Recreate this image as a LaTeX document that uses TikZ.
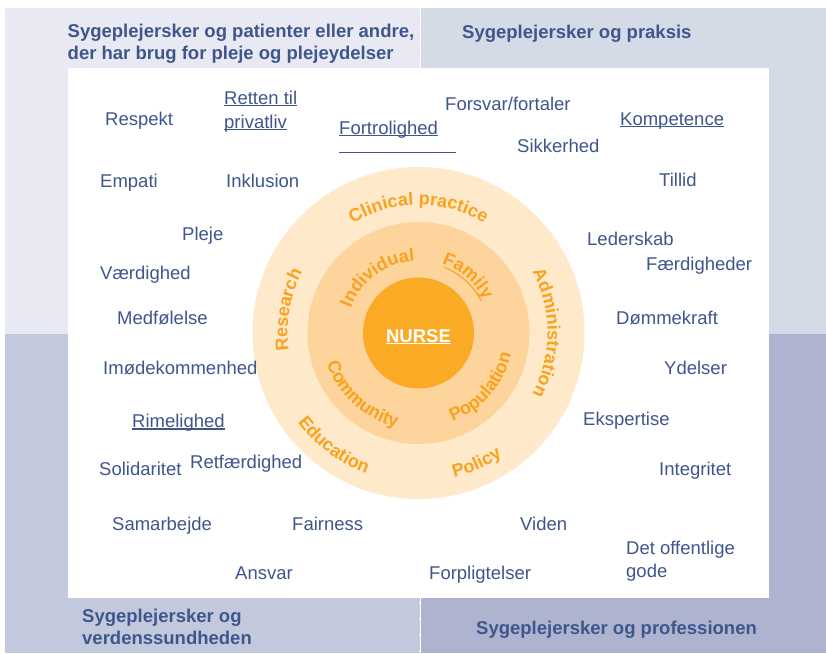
\documentclass[tikz,border=0pt]{standalone}
\usepackage{fontspec}
\setmainfont{Liberation Sans}
\usepackage{tikz}
\usetikzlibrary{decorations.text}

\definecolor{ordblaa}{HTML}{3F568C}
\definecolor{kvadA}{HTML}{E8E9F2}
\definecolor{kvadB}{HTML}{D5DAE7}
\definecolor{kvadC}{HTML}{C3C9DD}
\definecolor{kvadD}{HTML}{AEB3CF}
\definecolor{ringyder}{HTML}{FEE9CA}
\definecolor{ringmidt}{HTML}{FDD49C}
\definecolor{ringinder}{HTML}{FBAA26}
\definecolor{ringtekst}{HTML}{F9A21D}

\newcommand{\ulword}[1]{\setbox0\hbox{#1}\rlap{\rule[-1.8pt]{\wd0}{1.1pt}}\box0}
\newcommand{\ringfont}{\fontsize{18}{20}\selectfont\bfseries\color{ringtekst}}

\tikzset{
  word/.style={font=\fontsize{18.5}{23.5}\selectfont, text=ordblaa,
    anchor=base west, inner sep=0pt, align=left},
  heading/.style={font=\fontsize{18.5}{22.5}\selectfont\bfseries, text=ordblaa,
    anchor=base west, inner sep=0pt, align=left},
  ringlabel/.style={decorate, decoration={text along path, text align=center, text={|\ringfont|#1}}}
}

\begin{document}
\begin{tikzpicture}[x=1pt,y=-1pt]
\useasboundingbox (0,0) rectangle (826,653);

% quadrants
\fill[kvadA] (5,8) rectangle (420,334);
\fill[kvadB] (420,8) rectangle (826,334);
\fill[kvadC] (5,334) rectangle (420,653);
\fill[kvadD] (420,334) rectangle (826,653);
\fill[white] (68,68) rectangle (769,598);

\draw[white, line width=0.8pt] (420,8) -- (420,68);
\draw[white, line width=0.8pt] (420,598) -- (420,653);
\draw[white, line width=2.5pt, line cap=round, dash pattern=on 0pt off 16pt] (420,13) -- (420,68);
\draw[white, line width=2.5pt, line cap=round, dash pattern=on 0pt off 16pt] (420,603) -- (420,653);

\node[heading, anchor=north west] (hjoerneA) at (67.5,23.4) {Sygeplejersker og patienter eller andre,\\der har brug for pleje og plejeydelser};
\node[heading] (hjoerneB) at (462,38) {Sygeplejersker og praksis};
\node[heading, anchor=north west] (hjoerneC) at (82,608.4) {Sygeplejersker og\\verdenssundheden};
\node[heading] (hjoerneD) at (476,634) {Sygeplejersker og professionen};

% rings
\begin{scope}[shift={(418.5,333)}, y=1pt]
\fill[ringyder] (0,0) circle (166);
\fill[ringmidt] (0,0) circle (111);
\fill[ringinder] (0,0) circle (55.5);

\path[ringlabel=Clinical practice] (140:128) arc[start angle=140, end angle=40, radius=128];
\path[ringlabel=Research] (215:131) arc[start angle=215, end angle=125, radius=131];
\path[ringlabel=Administration] (45:129) arc[start angle=45, end angle=-45, radius=129];
\path[ringlabel=Education] (193:150) arc[start angle=193, end angle=273, radius=150];
\path[ringlabel=Policy] (-106:149) arc[start angle=-106, end angle=-26, radius=149];

\path[ringlabel=Individual] (166.5:72) arc[start angle=166.5, end angle=86.5, radius=72];
\path[ringlabel=Family] (89:73) arc[start angle=89, end angle=9, radius=73];
\path[ringlabel=Community] (187.5:96.5) arc[start angle=187.5, end angle=267.5, radius=96.5];
\path[ringlabel=Population] (-81:95) arc[start angle=-81, end angle=-1, radius=95];
\draw[ringtekst, line width=1pt] (69:70.5) arc[start angle=69, end angle=27, radius=70.5];
\end{scope}

\node[font=\fontsize{18.5}{22}\selectfont\bfseries, text=white, inner sep=0pt] (nurse) at (418.5,337) {\ulword{NURSE}};

% words, left
\node[word] (respekt) at (105,125) {Respekt};
\node[word, anchor=north west] (retten) at (224,91) {\ulword{Retten til}\\\ulword{privatliv}};
\node[word] (fortrolighed) at (339,134) {\ulword{Fortrolighed}};
\draw[ordblaa, line width=0.8pt] ([yshift=-18.7pt]fortrolighed.base west) -- ++(117,0);
\node[word] (empati) at (100,187) {Empati};
\node[word] (inklusion) at (226,187) {Inklusion};
\node[word] (pleje) at (182,240) {Pleje};
\node[word] (vaerdighed) at (100,279) {Værdighed};
\node[word] (medfoelelse) at (117,324) {Medfølelse};
\node[word] (imoedekommenhed) at (103,374) {Imødekommenhed};
\node[word] (rimelighed) at (132,427.7) {\ulword{Rimelighed}};
\node[word] (solidaritet) at (99,475) {Solidaritet};
\node[word] (retfaerdighed) at (190,468) {Retfærdighed};
\node[word] (samarbejde) at (112,530) {Samarbejde};
\node[word] (fairness) at (292,530) {Fairness};
\node[word] (ansvar) at (235,579) {Ansvar};

% words, right
\node[word] (forsvar) at (445,110) {Forsvar/fortaler};
\node[word] (kompetence) at (620,125) {\ulword{Kompetence}};
\node[word] (sikkerhed) at (517,152.7) {Sikkerhed};
\node[word] (tillid) at (659,186.7) {Tillid};
\node[word] (lederskab) at (587,245) {Lederskab};
\node[word] (faerdigheder) at (646,270) {Færdigheder};
\node[word] (doemmekraft) at (616,324) {Dømmekraft};
\node[word] (ydelser) at (664,374) {Ydelser};
\node[word] (ekspertise) at (583,425) {Ekspertise};
\node[word] (integritet) at (659,475) {Integritet};
\node[word] (viden) at (520,530) {Viden};
\node[word, anchor=north west] (offentlige) at (626,540.7) {Det offentlige\\gode};
\node[word] (forpligtelser) at (429,579) {Forpligtelser};
\end{tikzpicture}
\end{document}
